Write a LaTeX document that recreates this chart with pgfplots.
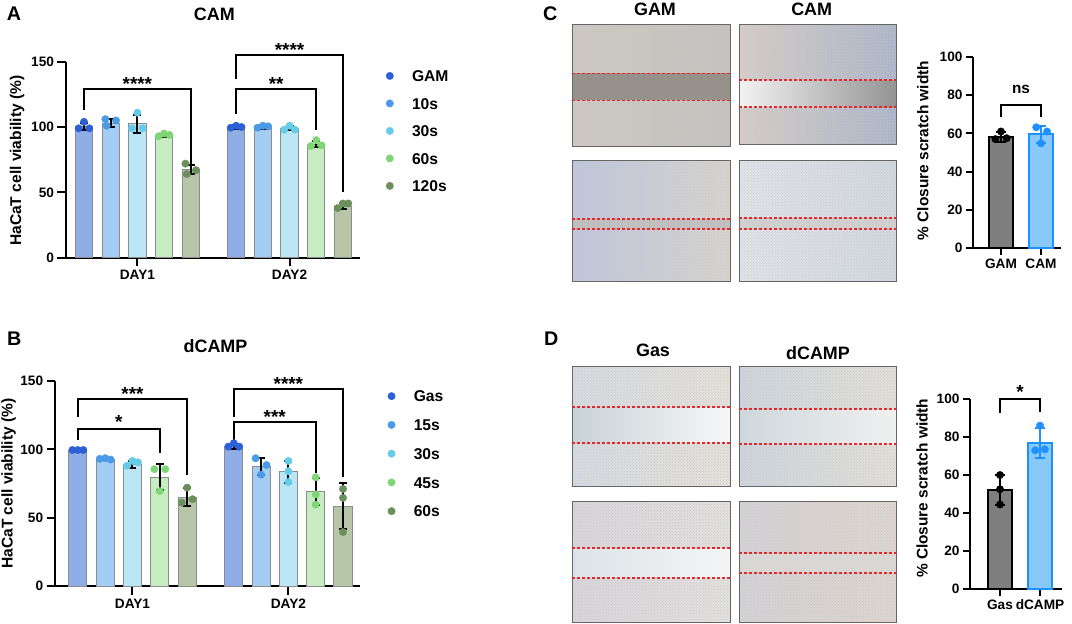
\documentclass[border=0pt]{standalone}
\usepackage{fontspec}
\setmainfont{Liberation Sans}
\usepackage{pgfplots}
\pgfplotsset{compat=1.18}
\usetikzlibrary{patterns}
\definecolor{fb1}{HTML}{8FAEE8}
\definecolor{fb2}{HTML}{A3CDF3}
\definecolor{fb3}{HTML}{BAE6F5}
\definecolor{fb4}{HTML}{C8ECC2}
\definecolor{fb5}{HTML}{B7C6A9}
\definecolor{db1}{HTML}{2D5FD6}
\definecolor{db2}{HTML}{4A9AE6}
\definecolor{db3}{HTML}{66CBE9}
\definecolor{db4}{HTML}{7FD677}
\definecolor{db5}{HTML}{6A8F5A}
\definecolor{gbar}{HTML}{7F7F7F}
\definecolor{cbar}{HTML}{87C9F9}
\definecolor{cedge}{HTML}{1E90FF}
\definecolor{rline}{HTML}{E8262A}
\tikzset{sig/.style={anchor=base, font=\fontsize{19}{19}\selectfont\bfseries, inner sep=0pt, yshift=-1.5bp}}
\pgfplotsset{
  panel/.style={scale only axis, axis lines*=left, axis line style={line width=2bp,-},
    every tick/.style={black,line width=2bp}, tick align=outside, major tick length=8.5bp,
    ymin=0, clip=false, /pgf/number format/assume math mode=true,
    tick label style={font=\fontsize{13.7}{14}\selectfont\bfseries},
    xticklabel style={text height=10bp, text depth=3bp},
    label style={font=\fontsize{15.6}{16}\selectfont\bfseries}},
  errb/.style={draw=none, forget plot, error bars/.cd, y dir=both, y explicit,
    error bar style={draw=#1, line width=2bp},
    error mark options={draw=#1, rotate=90, mark size=4bp, line width=2bp}},
  errb/.default=black,
  errc/.style={draw=none, forget plot, error bars/.cd, y dir=both, y explicit,
    error bar style={draw=#1, line width=2bp},
    error mark options={draw=#1, rotate=90, mark size=5bp, line width=2bp}},
  dots/.style={only marks, mark=*, mark size=3.7bp, color=#1, mark options={draw=#1, fill=#1}},
  barp/.style={ybar, bar shift=0pt, forget plot, fill=#1, draw=black!45, line width=1bp},
  leg/.style={legend style={draw=none, fill=none, inner sep=0pt, column sep=17.5bp,
    font=\fontsize{15.7}{16}\selectfont\bfseries,
    nodes={text height=11.5bp, text depth=0bp, inner sep=1bp}},
    legend cell align=left,
    legend image code/.code={\draw[mark repeat=2,mark phase=2,##1] plot coordinates {(0bp,0bp)(8.5bp,0bp)(17bp,0bp)};}},
}
\newcommand{\micro}[8]{%
  \path[#7] (#1bp,-#2bp) rectangle (#3bp,-#4bp);
  \path[pattern=crosshatch dots, pattern color=black!22] (#1bp,-#2bp) rectangle (#3bp,-#4bp);
  \path[#8] (#1bp,-#5bp) rectangle (#3bp,-#6bp);
  \draw[black!60, line width=1bp] (#1bp,-#2bp) rectangle (#3bp,-#4bp);
  \draw[rline, line width=1.4bp, dash pattern=on 3bp off 2bp] (#1bp,-#5bp) -- (#3bp,-#5bp);
  \draw[rline, line width=1.4bp, dash pattern=on 3bp off 2bp] (#1bp,-#6bp) -- (#3bp,-#6bp);
}
\begin{document}
\begin{tikzpicture}
\useasboundingbox (0,0) rectangle (1072bp,-624bp);
% panel letters and titles
\node[anchor=base west, font=\fontsize{19.8}{20}\selectfont\bfseries, inner sep=0] at (6.7bp,-20.7bp) {A};
\node[anchor=base west, font=\fontsize{19.8}{20}\selectfont\bfseries, inner sep=0] at (6.9bp,-345.7bp) {B};
\node[anchor=base west, font=\fontsize{19.8}{20}\selectfont\bfseries, inner sep=0] at (543bp,-20bp) {C};
\node[anchor=base west, font=\fontsize{19.8}{20}\selectfont\bfseries, inner sep=0] at (544bp,-345.7bp) {D};
\node[anchor=base, font=\fontsize{18}{19}\selectfont\bfseries, inner sep=0] at (214.4bp,-20bp) {CAM};
\node[anchor=base, font=\fontsize{18}{19}\selectfont\bfseries, inner sep=0] at (215.5bp,-352.7bp) {dCAMP};
\node[anchor=base, font=\fontsize{18}{19}\selectfont\bfseries, inner sep=0] at (655bp,-15bp) {GAM};
\node[anchor=base, font=\fontsize{18}{19}\selectfont\bfseries, inner sep=0] at (811.7bp,-15bp) {CAM};
\node[anchor=base, font=\fontsize{18}{19}\selectfont\bfseries, inner sep=0] at (653bp,-356.7bp) {Gas};
\node[anchor=base, font=\fontsize{18}{19}\selectfont\bfseries, inner sep=0] at (818bp,-359bp) {dCAMP};
% micrographs (schematic)
\micro{572.3}{24.7}{730.7}{146}{73.3}{100.3}{left color={rgb,255:red,205;green,200;blue,195}, right color={rgb,255:red,196;green,193;blue,190}}{fill={rgb,255:red,150;green,145;blue,139}}
\micro{739}{24}{896}{144}{80}{107}{left color={rgb,255:red,214;green,205;blue,200}, right color={rgb,255:red,170;green,180;blue,200}}{left color=black!5, right color=black!42}
\micro{572.3}{160}{730.7}{281}{219}{229}{left color={rgb,255:red,190;green,198;blue,220}, right color={rgb,255:red,216;green,212;blue,206}}{fill=black!25}
\micro{739}{160}{896}{281}{218}{229}{left color={rgb,255:red,227;green,228;blue,234}, right color={rgb,255:red,210;green,215;blue,224}}{fill=black!19}
\micro{572.3}{366}{730.7}{486}{407}{443}{left color={rgb,255:red,214;green,219;blue,225}, right color={rgb,255:red,230;green,226;blue,219}}{left color={rgb,255:red,200;green,210;blue,214}, right color=black!3}
\micro{739}{366}{896}{486}{409}{444}{left color={rgb,255:red,206;green,213;blue,220}, right color={rgb,255:red,227;green,224;blue,219}}{left color={rgb,255:red,206;green,216;blue,220}, right color=black!6}
\micro{572.3}{501}{730.7}{622}{548}{578}{left color={rgb,255:red,216;green,214;blue,218}, right color={rgb,255:red,228;green,225;blue,224}}{left color={rgb,255:red,220;green,227;blue,232}, right color=black!4}
\micro{739}{501}{896}{622}{553}{573}{left color={rgb,255:red,212;green,210;blue,214}, right color={rgb,255:red,222;green,214;blue,206}}{fill={rgb,255:red,217;green,215;blue,211}}

% ---------------- Panel A
\begin{axis}[panel, leg, at={(66bp,-257.7bp)}, anchor=south west, width=294.3bp, height=196bp,
  xmin=-0.674, xmax=10.35, ymax=150, ytick={0,50,100,150}, xtick={2,7.7}, xticklabels={DAY1,DAY2},
  bar width=0.65, ylabel={HaCaT cell viability (\%)},
  ylabel style={at={(axis description cs:-0.166,0.495)}, anchor=center},
  legend style={at={(rel axis cs:1.087,0.963)}, anchor=north west, row sep=14bp}]
\addplot[barp=fb1] coordinates {(0,100.5) (5.7,100)};
\addplot[barp=fb2] coordinates {(1,103) (6.7,100)};
\addplot[barp=fb3] coordinates {(2,102.5) (7.7,99)};
\addplot[barp=fb4] coordinates {(3,93.5) (8.7,87)};
\addplot[barp=fb5] coordinates {(4,67.5) (9.7,39.5)};
\addplot[dots=db1] coordinates {(-0.2,99) (0,104) (0.2,99) (5.5,99.5) (5.7,101) (5.9,100)};
\addlegendentry{GAM}
\addplot[dots=db2] coordinates {(0.8,106) (0.85,101) (1.2,105) (6.5,99.5) (6.7,101) (6.9,100.5)};
\addlegendentry{10s}
\addplot[dots=db3] coordinates {(1.8,99) (2,111) (2.2,99) (7.5,98) (7.7,101) (7.9,98)};
\addlegendentry{30s}
\addplot[dots=db4] coordinates {(2.8,93) (3,95) (3.2,94) (8.5,85.5) (8.7,90) (8.9,86)};
\addlegendentry{60s}
\addplot[dots=db5] coordinates {(3.8,72) (3.85,64) (4.2,67) (9.5,38) (9.7,41.5) (9.9,41.5)};
\addlegendentry{120s}
\addplot[errb] coordinates {(0,100.5) +- (0,2.9) (1,103) +- (0,3) (2,102.5) +- (0,7) (3,93.5) +- (0,1) (4,67.5) +- (0,3.5)
  (5.7,100) +- (0,1.3) (6.7,100) +- (0,1.2) (7.7,99) +- (0,1.5) (8.7,87) +- (0,2.5) (9.7,39.5) +- (0,2)};
\draw[line width=2bp] (axis cs:0,113) |- (axis cs:4,129) -- (axis cs:4,72);
\node[sig] at (axis cs:2,129) {****};
\draw[line width=2bp] (axis cs:5.7,110) |- (axis cs:8.7,129) -- (axis cs:8.7,98);
\node[sig] at (axis cs:7.2,129) {**};
\draw[line width=2bp] (axis cs:5.7,137) |- (axis cs:9.7,155) -- (axis cs:9.7,50.5);
\node[sig] at (axis cs:7.7,155) {****};
\end{axis}

% ---------------- Panel B
\begin{axis}[panel, leg, at={(55.2bp,-586bp)}, anchor=south west, width=305bp, height=205bp,
  xmin=-0.83, xmax=10.34, ymax=150, ytick={0,50,100,150}, xtick={2,7.71}, xticklabels={DAY1,DAY2},
  bar width=0.66, ylabel={HaCaT cell viability (\%)},
  ylabel style={at={(axis description cs:-0.153,0.5)}, anchor=center},
  legend style={at={(rel axis cs:1.09,0.96)}, anchor=north west, row sep=15.25bp}]
\addplot[barp=fb1] coordinates {(0,99.5) (5.71,102)};
\addplot[barp=fb2] coordinates {(1,92.7) (6.71,87.5)};
\addplot[barp=fb3] coordinates {(2,89) (7.71,83.5)};
\addplot[barp=fb4] coordinates {(3,79.5) (8.71,69)};
\addplot[barp=fb5] coordinates {(4,65) (9.71,58.5)};
\addplot[dots=db1] coordinates {(-0.2,99.5) (0,99.5) (0.2,99.5) (5.51,102) (5.71,104.5) (5.91,102)};
\addlegendentry{Gas}
\addplot[dots=db2] coordinates {(0.8,93) (1,93.5) (1.2,92.5) (6.51,93.5) (6.91,88.5) (6.71,81.5)};
\addlegendentry{15s}
\addplot[dots=db3] coordinates {(1.8,88) (2,91.5) (2.2,90.5) (7.71,91.5) (7.71,84) (7.71,76)};
\addlegendentry{30s}
\addplot[dots=db4] coordinates {(2.8,85.5) (3.2,85.5) (3,69.5) (8.71,79.5) (8.71,67) (8.71,59.5)};
\addlegendentry{45s}
\addplot[dots=db5] coordinates {(4,72) (3.8,61) (4.2,63.5) (9.71,71) (9.71,64.5) (9.71,39.5)};
\addlegendentry{60s}
\addplot[errb] coordinates {(0,99.5) +- (0,0.5) (1,92.7) +- (0,0.5) (2,89) +- (0,2.5) (3,79.5) +- (0,9.5) (4,65) +- (0,6.5)
  (5.71,102) +- (0,1.5) (6.71,87.5) +- (0,6.5) (7.71,83.5) +- (0,8) (8.71,69) +- (0,10) (9.71,58.5) +- (0,17)};
\draw[line width=2bp] (axis cs:0,107) |- (axis cs:3,114.6) -- (axis cs:3,97);
\node[sig, yshift=2bp] at (axis cs:1.5,114.6) {*};
\draw[line width=2bp] (axis cs:0,124) |- (axis cs:4,136.6) -- (axis cs:4,81);
\node[sig] at (axis cs:2,136.6) {***};
\draw[line width=2bp] (axis cs:5.71,107) |- (axis cs:8.71,120) -- (axis cs:8.71,82.4);
\node[sig] at (axis cs:7.21,120) {***};
\draw[line width=2bp] (axis cs:5.71,124) |- (axis cs:9.71,144) -- (axis cs:9.71,80);
\node[sig] at (axis cs:7.71,144) {****};
\end{axis}

% ---------------- Panel C
\begin{axis}[panel, major tick length=7bp, at={(973bp,-248bp)}, anchor=south west, width=88bp, height=191bp,
  xmin=-0.7, xmax=1.5, ymax=100, ytick={0,20,40,60,80,100}, xtick={0,1}, xticklabels={GAM,CAM},
  bar width=0.6, ylabel={\% Closure scratch width}, label style={font=\fontsize{15.5}{16}\selectfont\bfseries},
  ylabel style={at={(axis description cs:-0.57,0.51)}, anchor=center}]
\addplot[ybar, bar shift=0pt, fill=gbar, draw=black, line width=2bp] coordinates {(0,58)};
\addplot[ybar, bar shift=0pt, fill=cbar, draw=cedge, line width=2bp] coordinates {(1,59.5)};
\addplot[dots=black] coordinates {(-0.14,57) (0,61) (0.14,57.5)};
\addplot[dots=cedge] coordinates {(0.88,63.2) (1.15,61) (1,54.8)};
\addplot[errc=black] coordinates {(0,58) +- (0,2.5)};
\addplot[errc=cedge] coordinates {(1,59.5) +- (0,4.5)};
\draw[line width=2bp] (axis cs:0,68.8) |- (axis cs:1,75) -- (axis cs:1,68.8);
\node[anchor=base, font=\fontsize{15.4}{16}\selectfont\bfseries, inner sep=0pt, yshift=11bp] at (axis cs:0.5,75) {ns};
\end{axis}

% ---------------- Panel D
\begin{axis}[panel, major tick length=7bp, at={(970bp,-589bp)}, anchor=south west, width=92bp, height=190bp,
  xmin=-0.75, xmax=1.55, ymax=100, ytick={0,20,40,60,80,100}, xtick={0,1}, xticklabels={Gas,dCAMP},
  bar width=0.6, ylabel={\% Closure scratch width}, label style={font=\fontsize{15.5}{16}\selectfont\bfseries},
  ylabel style={at={(axis description cs:-0.52,0.53)}, anchor=center}]
\addplot[ybar, bar shift=0pt, fill=gbar, draw=black, line width=2bp] coordinates {(0,52)};
\addplot[ybar, bar shift=0pt, fill=cbar, draw=cedge, line width=2bp] coordinates {(1,77)};
\addplot[dots=black] coordinates {(0,60) (0,52.5) (0,44.5)};
\addplot[dots=cedge] coordinates {(1,86) (0.88,73) (1.12,73.5)};
\addplot[errc=black] coordinates {(0,52) +- (0,8)};
\addplot[errc=cedge] coordinates {(1,77) +- (0,8)};
\draw[line width=2bp] (axis cs:0,92.5) |- (axis cs:1,99.8) -- (axis cs:1,93.3);
\node[sig, yshift=2bp] at (axis cs:0.5,99.8) {*};
\end{axis}
\end{tikzpicture}
\end{document}
